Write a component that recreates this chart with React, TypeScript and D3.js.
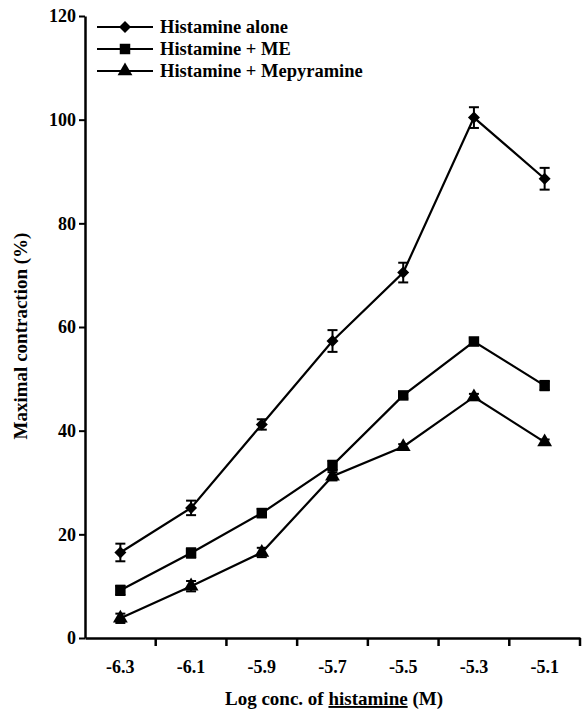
import { useEffect, useRef } from "react";
import * as d3 from "d3";

// log concentrations of histamine (M)
const doses = ["-6.3", "-6.1", "-5.9", "-5.7", "-5.5", "-5.3", "-5.1"];

const aloneMean = [16.5, 25.1, 41.2, 57.3, 70.5, 100.4, 88.6];
const aloneErr = [1.7, 1.4, 1.0, 2.1, 1.9, 2.0, 2.1];
const meMean = [9.2, 16.4, 24.1, 33.3, 46.8, 57.2, 48.7];
const meErr = [0.9, 0.9, 0.8, 0.9, 0.6, 0.7, 0.9];
const mepyMean = [3.8, 10.0, 16.5, 31.2, 36.9, 46.5, 37.8];
const mepyErr = [0.9, 1.0, 0.9, 0.8, 0.5, 0.6, 0.5];

const yTicks = [0, 20, 40, 60, 80, 100, 120];

const seriesNames = ["Histamine alone", "Histamine + ME", "Histamine + Mepyramine"];
const markers = ["diamond", "square", "triangle"];

const W = 584;
const H = 711;
const FONT = '"Liberation Serif", "Times New Roman", Times, "DejaVu Serif", serif';

function markerPath(kind: string) {
  if (kind === "diamond") return { d: d3.symbol(d3.symbolSquare, 72)(), rot: 45 };
  if (kind === "square") return { d: d3.symbol(d3.symbolSquare, 110)(), rot: 0 };
  return { d: d3.symbol(d3.symbolTriangle, 95)(), rot: 0 };
}

function styleText(sel: any, size = 18) {
  sel.style("font-family", FONT)
    .style("font-size", `${size}px`)
    .style("font-weight", "bold")
    .attr("fill", "#000");
}

export default function App() {
  const ref = useRef<SVGSVGElement>(null);

  useEffect(() => {
    const svg = d3.select(ref.current);
    svg.selectAll("*").remove();

    const left = 85, right = 580, top = 16, bottom = 638;

    const x = d3.scaleBand().domain(doses).range([left, right]).padding(0);
    const edges = d3.scaleLinear().domain([0, doses.length]).range([left, right]);
    const y = d3.scaleLinear().domain([0, 120]).range([bottom, top]);

    // y axis
    const yAxis = d3.axisLeft(y).tickValues(yTicks).tickSize(6).tickSizeOuter(0).tickPadding(3);
    const gy = svg.append("g").attr("transform", `translate(${left},0)`).call(yAxis);
    gy.attr("font-family", null).attr("font-size", null);
    gy.select(".domain").attr("stroke-width", 2.5);
    gy.selectAll(".tick line").attr("stroke-width", 2);
    styleText(gy.selectAll("text"), 18);

    // x axis: labels centred in bands, tick marks at band edges
    const xAxis = d3.axisBottom(x).tickSize(0).tickSizeOuter(0).tickPadding(22);
    const gx = svg.append("g").attr("transform", `translate(0,${bottom})`).call(xAxis);
    gx.attr("font-family", null).attr("font-size", null);
    gx.select(".domain").attr("stroke-width", 2.5);
    styleText(gx.selectAll("text"), 18);
    svg.append("g")
      .selectAll("line")
      .data(d3.range(1, doses.length + 1))
      .enter()
      .append("line")
      .attr("x1", d => edges(d))
      .attr("x2", d => edges(d))
      .attr("y1", bottom)
      .attr("y2", bottom + 8)
      .attr("stroke", "#000")
      .attr("stroke-width", 2.5);

    // axis titles
    const xt = svg.append("text")
      .attr("x", 334)
      .attr("y", 705)
      .attr("text-anchor", "middle");
    styleText(xt, 19);
    xt.append("tspan").text("Log conc. of ");
    xt.append("tspan").style("text-decoration", "underline").text("histamine");
    xt.append("tspan").text(" (M)");

    const yt = svg.append("text")
      .attr("transform", `translate(27,336) rotate(-90)`)
      .attr("text-anchor", "middle")
      .text("Maximal contraction (%)");
    styleText(yt, 19);

    const series = [
      { mean: aloneMean, err: aloneErr },
      { mean: meMean, err: meErr },
      { mean: mepyMean, err: mepyErr },
    ];

    const cx = (d: string) => (x(d) as number) + x.bandwidth() / 2;
    const line = d3.line<number>().x((_, i) => cx(doses[i])).y(v => y(v));

    series.forEach((s, k) => {
      const g = svg.append("g");
      g.append("path")
        .attr("d", line(s.mean))
        .attr("fill", "none")
        .attr("stroke", "#000")
        .attr("stroke-width", 2.2);

      // error bars
      s.mean.forEach((m, i) => {
        const px = cx(doses[i]);
        const lo = y(m - s.err[i]);
        const hi = y(m + s.err[i]);
        g.append("line").attr("x1", px).attr("x2", px).attr("y1", lo).attr("y2", hi)
          .attr("stroke", "#000").attr("stroke-width", 2);
        [lo, hi].forEach(yy => {
          g.append("line").attr("x1", px - 5).attr("x2", px + 5).attr("y1", yy).attr("y2", yy)
            .attr("stroke", "#000").attr("stroke-width", 2);
        });
      });

      const mk = markerPath(markers[k]);
      g.selectAll("path.mk")
        .data(s.mean)
        .enter()
        .append("path")
        .attr("class", "mk")
        .attr("d", mk.d)
        .attr("transform", (v, i) => `translate(${cx(doses[i])},${y(v)}) rotate(${mk.rot})`)
        .attr("fill", "#000");
    });

    // legend
    const legendY = [27, 49, 71];
    seriesNames.forEach((name, k) => {
      const g = svg.append("g").attr("transform", `translate(0,${legendY[k]})`);
      g.append("line").attr("x1", 97).attr("x2", 153).attr("y1", 0).attr("y2", 0)
        .attr("stroke", "#000").attr("stroke-width", 2.2);
      const mk = markerPath(markers[k]);
      g.append("path").attr("d", mk.d)
        .attr("transform", `translate(125,0) rotate(${mk.rot})`).attr("fill", "#000");
      const t = g.append("text").attr("x", 160).attr("y", 6).text(name);
      styleText(t, 18.5);
    });
  }, []);

  return (
    <svg
      ref={ref}
      width={W}
      height={H}
      style={{ position: "absolute", left: 0, top: 0, background: "#fff" }}
    />
  );
}
